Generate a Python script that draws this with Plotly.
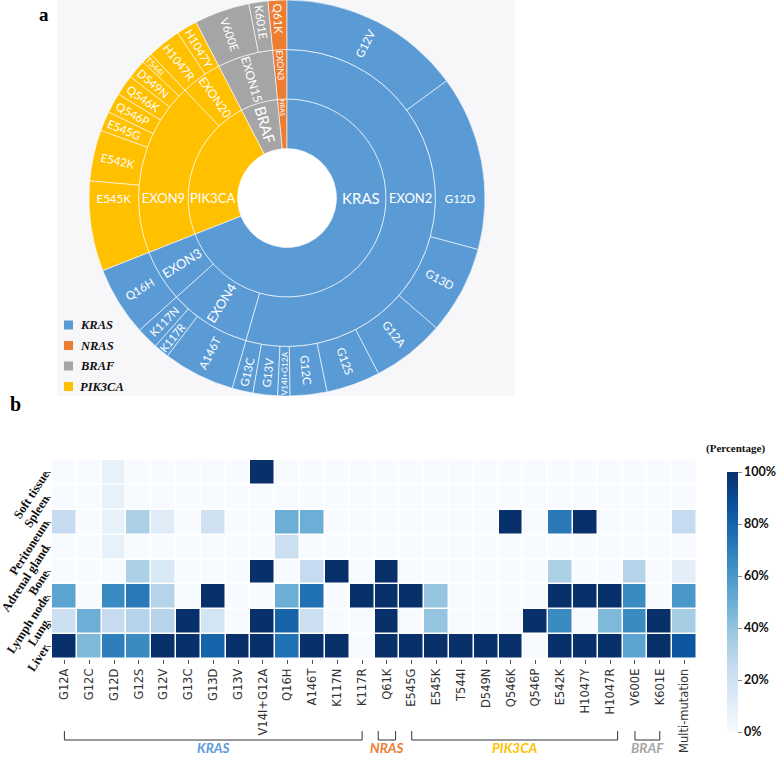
import plotly.graph_objects as go

W, H = 778, 759

# ---------------- Sunburst data (clockwise from 12 o'clock) ----------------
genes = ["KRAS", "PIK3CA", "BRAF", "NRAS"]
gene_colors = {"KRAS": "#5b9bd5", "NRAS": "#ed7d31", "BRAF": "#a5a5a5", "PIK3CA": "#ffc000"}
exons = [("KRAS", "EXON2"), ("KRAS", "EXON4"), ("KRAS", "EXON3"),
         ("PIK3CA", "EXON9"), ("PIK3CA", "EXON20"),
         ("BRAF", "EXON15"), ("NRAS", "EXON3")]
mut_gene = ["KRAS"] * 13 + ["PIK3CA"] * 9 + ["BRAF"] * 2 + ["NRAS"]
mut_exon = (["EXON2"] * 9 + ["EXON4"] * 3 + ["EXON3"]
            + ["EXON9"] * 7 + ["EXON20"] * 2 + ["EXON15"] * 2 + ["EXON3"])
mut_names = ["G12V", "G12D", "G13D", "G12A", "G12S", "G12C", "V14I+G12A", "G13V", "G13C",
             "A146T", "K117R", "K117N", "Q16H",
             "E545K", "E542K", "E545G", "Q546P", "Q546K", "D549N", "T544I",
             "H1047R", "H1047Y", "V600E", "K601E", "Q61K"]
mut_share = [14.9, 14.25, 7.2, 5.95, 4.4, 3.0, 1.0, 2.0, 1.7,
             5.85, 1.25, 1.8, 5.65,
             7.35, 4.15, 1.6, 1.65, 1.7, 1.55, 0.9,
             2.75, 1.7, 4.5, 1.55, 1.55]

# ---------------- Heatmap data ----------------
hm_cols = ["G12A", "G12C", "G12D", "G12S", "G12V", "G13C", "G13D", "G13V", "V14I+G12A",
           "Q16H", "A146T", "K117N", "K117R", "Q61K", "E545G", "E545K", "T544I", "D549N",
           "Q546K", "Q546P", "E542K", "H1047Y", "H1047R", "V600E", "K601E", "Multi-mutation"]
hm_rows = ["Soft tissue", "Spleen", "Peritoneum", "Adrenal gland", "Bone", "Lymph node", "Lung", "Liver"]
soft_tissue = [0, 0, 8, 0, 0, 0, 0, 0, 100, 0, 0, 0, 0, 0, 0, 0, 0, 0, 0, 0, 0, 0, 0, 0, 0, 0]
spleen = [0, 0, 8, 0, 0, 0, 0, 0, 0, 0, 0, 0, 0, 0, 0, 0, 0, 0, 0, 0, 0, 0, 0, 0, 0, 0]
peritoneum = [25, 0, 8, 33, 12, 0, 20, 0, 0, 50, 50, 0, 0, 0, 0, 0, 0, 0, 100, 0, 72, 100, 0, 0, 0, 25]
adrenal_gland = [0, 0, 8, 0, 0, 0, 0, 0, 0, 22, 0, 0, 0, 0, 0, 0, 0, 0, 0, 0, 0, 0, 0, 0, 0, 0]
bone = [0, 0, 0, 33, 15, 0, 0, 0, 100, 0, 25, 100, 0, 100, 0, 0, 0, 0, 0, 0, 33, 0, 0, 30, 0, 10]
lymph_node = [55, 0, 65, 72, 30, 0, 100, 0, 0, 50, 75, 0, 100, 100, 100, 40, 0, 0, 0, 0, 100, 100, 100, 65, 0, 60]
lung = [22, 50, 25, 30, 30, 100, 18, 0, 100, 80, 22, 0, 0, 100, 0, 40, 0, 0, 0, 100, 65, 0, 45, 65, 100, 35]
liver = [100, 45, 70, 65, 100, 100, 80, 100, 100, 75, 100, 100, 0, 100, 100, 100, 100, 100, 100, 0, 100, 100, 100, 55, 100, 85]
z = [soft_tissue, spleen, peritoneum, adrenal_gland, bone, lymph_node, lung, liver]

cbar_vals = [0, 20, 40, 60, 80, 100]
cbar_text = ["0%", "20%", "40%", "60%", "80%", "100%"]

groups = ["KRAS", "NRAS", "PIK3CA", "BRAF"]
group_span = [(0, 12), (12.65, 13.35), (14, 22.3), (23, 24)]

# ---------------- build sunburst nodes ----------------
ids, labels, parents, values, colors, sizes = [], [], [], [], [], []
for g in genes:
    ids.append(g); labels.append(g); parents.append("root"); values.append(0)
    colors.append(gene_colors[g]); sizes.append(15)
for g, e in exons:
    ids.append(g + "/" + e); labels.append(e); parents.append(g); values.append(0)
    colors.append(gene_colors[g]); sizes.append(13)
for g, e, m, v in zip(mut_gene, mut_exon, mut_names, mut_share):
    ids.append(g + "/" + e + "/" + m); labels.append(m); parents.append(g + "/" + e)
    values.append(v); colors.append(gene_colors[g]); sizes.append(11.5)

# reverse sibling order (plotly lays out counterclockwise)
ids = ids[::-1]; labels = labels[::-1]; parents = parents[::-1]
values = values[::-1]; colors = colors[::-1]; sizes = sizes[::-1]
ids = ["root"] + ids; labels = [""] + labels; parents = [""] + parents
values = [0] + values; colors = ["#ffffff"] + colors; sizes = [11] + sizes

def px(xp):
    return xp / W

def py(yp):
    return 1 - yp / H

fig = go.Figure()

cx, cy, R = 287, 198, 198
fig.add_trace(go.Sunburst(
    ids=ids, labels=labels, parents=parents, values=values,
    branchvalues="remainder", sort=False, rotation=90,
    marker=dict(colors=colors, line=dict(color="rgba(255,255,255,0.75)", width=0.8)),
    leaf=dict(opacity=1),
    textinfo="label", insidetextorientation="radial",
    insidetextfont=dict(family="Lato, Open Sans, sans-serif", color="white", size=sizes),
    domain=dict(x=[px(cx - R), px(cx + R)], y=[max(0, py(cy + R)), min(1, py(cy - R))]),
    hoverinfo="label",
))

fig.add_trace(go.Heatmap(
    z=z, x=hm_cols, y=hm_rows, zmin=0, zmax=100,
    colorscale=[[0, "rgb(247,251,255)"], [0.125, "rgb(222,235,247)"], [0.25, "rgb(198,219,239)"],
                [0.375, "rgb(158,202,225)"], [0.5, "rgb(107,174,214)"], [0.625, "rgb(66,146,198)"],
                [0.75, "rgb(33,113,181)"], [0.875, "rgb(8,81,156)"], [1, "rgb(8,48,107)"]],
    xgap=1.5, ygap=1.5,
    colorbar=dict(x=px(727), xanchor="left", xpad=0, y=py(602), yanchor="middle", ypad=0,
                  len=260, lenmode="pixels", thickness=11, outlinewidth=0,
                  tickvals=cbar_vals, ticktext=["<b>%s</b>" % t for t in cbar_text],
                  ticks="outside", ticklen=4, tickcolor="#888",
                  tickfont=dict(family="Lato, Open Sans, sans-serif", size=12.5, color="#111")),
))

fig.update_layout(
    width=W, height=H, margin=dict(l=0, r=0, t=0, b=0),
    paper_bgcolor="white", plot_bgcolor="white", showlegend=False,
    xaxis=dict(domain=[px(52), px(697)], tickangle=-90, ticks="outside", ticklen=4,
               tickcolor="#555", automargin=False, showgrid=False, zeroline=False,
               tickfont=dict(family="DejaVu Sans, sans-serif", size=11.5, color="#333"),
               showline=False),
    yaxis=dict(domain=[py(659), py(460)], autorange="reversed", tickangle=-57,
               ticks="outside", ticklen=4, tickcolor="#555", automargin=False,
               showgrid=False, zeroline=False,
               tickvals=hm_rows, ticktext=["<b>%s</b>" % r for r in hm_rows],
               tickfont=dict(family="Liberation Serif, serif", size=12.5, color="#111")),
)

shapes = []
annotations = []
# background panel of sunburst
shapes.append(dict(type="rect", xref="paper", yref="paper", x0=px(57), x1=px(515),
                   y0=py(396), y1=py(0), fillcolor="#f7f7f9", line=dict(width=0), layer="below"))

# legend of sunburst
for i, g in enumerate(["KRAS", "NRAS", "BRAF", "PIK3CA"]):
    yc = 325 + i * 20.5
    shapes.append(dict(type="rect", xref="paper", yref="paper", x0=px(64), x1=px(73),
                       y0=py(yc + 4.5), y1=py(yc - 4.5), fillcolor=gene_colors[g], line=dict(width=0)))
    annotations.append(dict(x=px(78), y=py(yc), xref="paper", yref="paper", xanchor="left",
                            yanchor="middle", showarrow=False, text="<b><i>%s</i></b>" % g,
                            font=dict(family="Liberation Serif, serif", size=12.5, color="#111")))

# brackets and group labels
grp_colors = {"KRAS": "#5b9bd5", "NRAS": "#ed7d31", "PIK3CA": "#ffc000", "BRAF": "#a5a5a5"}
for g, (a, b) in zip(groups, group_span):
    shapes.append(dict(type="line", xref="x", yref="paper", x0=a, x1=a, y0=py(731), y1=py(740),
                       line=dict(color="#333", width=1)))
    shapes.append(dict(type="line", xref="x", yref="paper", x0=a, x1=b, y0=py(740), y1=py(740),
                       line=dict(color="#333", width=1)))
    shapes.append(dict(type="line", xref="x", yref="paper", x0=b, x1=b, y0=py(731), y1=py(740),
                       line=dict(color="#333", width=1)))
    annotations.append(dict(x=(a + b) / 2, y=py(758), xref="x", yref="paper", xanchor="center",
                            yanchor="bottom", showarrow=False, text="<b><i>%s</i></b>" % g,
                            font=dict(family="Lato, Open Sans, sans-serif", size=13.5, color=grp_colors[g])))

# panel letters & colorbar title
annotations.append(dict(x=px(44), y=py(15), xref="paper", yref="paper", showarrow=False,
                        xanchor="center", yanchor="middle",
                        text="<b>a</b>", font=dict(family="Liberation Serif, serif", size=19, color="#000")))
annotations.append(dict(x=px(15), y=py(404), xref="paper", yref="paper", showarrow=False,
                        xanchor="center", yanchor="middle",
                        text="<b>b</b>", font=dict(family="Liberation Serif, serif", size=20, color="#000")))
annotations.append(dict(x=px(735), y=py(449), xref="paper", yref="paper", showarrow=False,
                        xanchor="center", yanchor="middle",
                        text="<b>(Percentage)</b>", font=dict(family="Liberation Serif, serif", size=11, color="#111")))

fig.update_layout(shapes=shapes, annotations=annotations)
fig.write_html("out.html", post_script="document.body.style.margin='0px';",
               config={"displayModeBar": False})
